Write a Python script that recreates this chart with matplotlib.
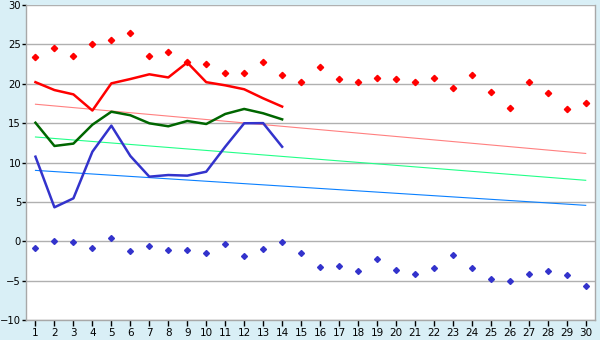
#!/usr/bin/env python3
"""
Daily temperature chart: observed lines, forecast points and trend lines
"""

import matplotlib
matplotlib.use("Agg")
import matplotlib.pyplot as plt

days = list(range(1, 31))
obs_days = list(range(1, 15))

# forecast extremes (points)
max_points = [23.4, 24.5, 23.5, 25.0, 25.6, 26.5, 23.5, 24.0, 22.7, 22.5,
              21.4, 21.4, 22.7, 21.1, 20.2, 22.1, 20.6, 20.2, 20.7, 20.6,
              20.2, 20.7, 19.5, 21.1, 18.9, 16.9, 20.2, 18.8, 16.8, 17.5]
min_points = [-0.8, 0.0, -0.1, -0.8, 0.4, -1.3, -0.6, -1.1, -1.1, -1.5,
              -0.3, -1.9, -1.0, -0.1, -1.5, -3.3, -3.1, -3.8, -2.3, -3.7,
              -4.2, -3.4, -1.7, -3.4, -4.8, -5.1, -4.1, -3.8, -4.3, -5.7]

# observed values (lines)
obs_max = [20.2, 19.2, 18.65, 16.6, 20.05, 20.6, 21.2, 20.8, 22.7, 20.2,
           19.8, 19.3, 18.15, 17.1]
obs_mean = [15.05, 12.1, 12.4, 14.8, 16.45, 16.0, 14.98, 14.6, 15.27, 14.89,
            16.16, 16.8, 16.25, 15.48]
obs_min = [10.74, 4.31, 5.45, 11.37, 14.68, 10.83, 8.2, 8.41, 8.33, 8.83,
           12.0, 14.98, 15.0, 12.0]

# long-term trend lines (start / end values)
trend_days = [1, 30]
trend_max = [17.4, 11.15]
trend_mean = [13.24, 7.74]
trend_min = [9.0, 4.56]

bg = '#d9eff6'

fig = plt.figure(figsize=(6, 3.4), dpi=100, facecolor=bg)
ax = fig.add_axes([0.0433, 0.0588, 0.9487, 0.9265])
ax.set_facecolor('white')

# trend lines
ax.plot(trend_days, trend_max, color='#ff8080', linewidth=0.8)
ax.plot(trend_days, trend_mean, color='#22ff88', linewidth=0.8)
ax.plot(trend_days, trend_min, color='#0a80ff', linewidth=0.8)

# observed lines
ax.plot(obs_days, obs_max, color='#ff0000', linewidth=1.8)
ax.plot(obs_days, obs_mean, color='#006600', linewidth=1.8)
ax.plot(obs_days, obs_min, color='#3333cc', linewidth=1.8)

# forecast points
ax.plot(days, max_points, linestyle='none', marker='D', markersize=3.2,
        color='#ff0000')
ax.plot(days, min_points, linestyle='none', marker='D', markersize=3.0,
        color='#3333cc')

ax.set_xlim(0.5, 30.5)
ax.set_ylim(-10, 30)
ax.set_xticks(days)
ax.set_yticks(range(-10, 31, 5))
ax.grid(True, axis='y', color='#b0b0b0', linewidth=1.0)
ax.set_axisbelow(True)

for side in ['left', 'right', 'top', 'bottom']:
    ax.spines[side].set_color('#a8a8a8')
    ax.spines[side].set_linewidth(1.0)
ax.spines['top'].set_visible(False)

ax.tick_params(axis='x', labelsize=7.5, colors='#000000', length=4,
               width=1.0, pad=2)
ax.tick_params(axis='y', labelsize=7.2, colors='#000000', length=3,
               width=1.0, pad=0.5)

fig.savefig("out.png", dpi=100, facecolor=bg)
plt.close(fig)
